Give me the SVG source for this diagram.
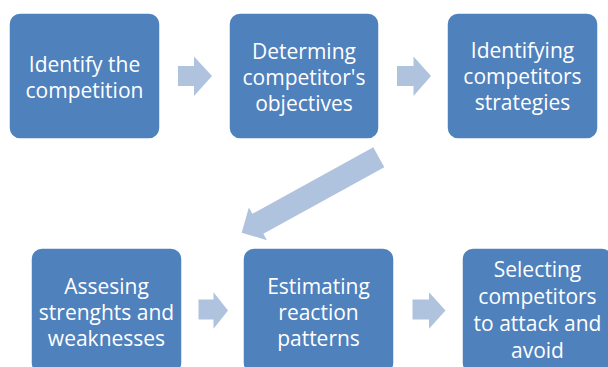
<svg xmlns="http://www.w3.org/2000/svg" width="608" height="367" viewBox="0 0 608 367">
  <style>
    .box { fill: #4F81BD; stroke: #ffffff; stroke-width: 1.5; }
    .lbl { font-family: "Open Sans", "Liberation Sans", sans-serif; font-size: 21px; fill: #ffffff; text-anchor: middle; }
    .arr { fill: #AFC2DE; stroke: none; }
  </style>
  <rect width="608" height="367" fill="#ffffff"/>

  <!-- process steps -->
  <g id="step1">
    <rect class="box" x="9" y="13" width="151" height="126" rx="11"/>
    <text class="lbl" x="84.5" y="72">Identify the</text>
    <text class="lbl" x="84.5" y="98">competition</text>
  </g>
  <g id="step2">
    <rect class="box" x="229" y="13" width="150" height="126" rx="11"/>
    <text class="lbl" x="304" y="59">Determing</text>
    <text class="lbl" x="304" y="85">competitor's</text>
    <text class="lbl" x="304" y="111">objectives</text>
  </g>
  <g id="step3">
    <rect class="box" x="447" y="13" width="151" height="126" rx="11"/>
    <text class="lbl" x="522.5" y="58">Identifying</text>
    <text class="lbl" x="522.5" y="84">competitors</text>
    <text class="lbl" x="522.5" y="110">strategies</text>
  </g>
  <g id="step4">
    <rect class="box" x="31" y="248" width="151" height="126" rx="11"/>
    <text class="lbl" x="106.5" y="294">Assesing</text>
    <text class="lbl" x="106.5" y="320">strenghts and</text>
    <text class="lbl" x="106.5" y="346">weaknesses</text>
  </g>
  <g id="step5">
    <rect class="box" x="243" y="248" width="151" height="126" rx="11"/>
    <text class="lbl" x="318.5" y="294">Estimating</text>
    <text class="lbl" x="318.5" y="320">reaction</text>
    <text class="lbl" x="318.5" y="346">patterns</text>
  </g>
  <g id="step6">
    <rect class="box" x="462" y="248" width="151" height="126" rx="11"/>
    <text class="lbl" x="537.5" y="277">Selecting</text>
    <text class="lbl" x="537.5" y="304">competitors</text>
    <text class="lbl" x="537.5" y="331">to attack and</text>
    <text class="lbl" x="537.5" y="358">avoid</text>
  </g>

  <!-- block arrows between steps -->
  <g id="connectors">
    <path class="arr" d="M178,66 H194 V56.5 L212,76 L194,96 V86 H178 Z"/>
    <path class="arr" d="M397,66 H413.5 V56.5 L431,76 L413.5,96 V86 H397 Z"/>
    <path class="arr" transform="translate(378.8,157.3) rotate(151.2)" d="M0,-11.4 H138 V-18.7 L156.5,0 L138,18.7 V11.4 H0 Z"/>
    <path class="arr" d="M198.5,299.5 H213.5 V292.3 L228,310.5 L213.5,328.7 V319.5 H198.5 Z"/>
    <path class="arr" d="M412.5,299.5 H429 V292.3 L445.5,310.5 L429,328.7 V319.5 H412.5 Z"/>
  </g>
</svg>
